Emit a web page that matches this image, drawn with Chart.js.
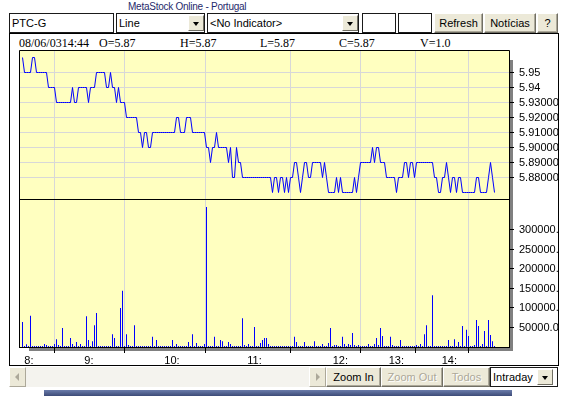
<!DOCTYPE html>
<html>
<head>
<meta charset="utf-8">
<script src="https://cdn.jsdelivr.net/npm/chart.js@4.4.0/dist/chart.umd.min.js"></script>
<style>
body { margin: 0; width: 578px; height: 396px; background: #fff; position: relative; overflow: hidden;
       font-family: "Liberation Sans", Arial, sans-serif; font-size: 11px; color: #000; }
.abs { position: absolute; box-sizing: border-box; }
#title { left: 128px; top: 2px; font-size: 10px; line-height: 10px; letter-spacing: -0.25px; color: #1f2a6b; white-space: nowrap; }
.field { background: #fff; border: 1px solid #1a1a1a; height: 20px; top: 13px; line-height: 18px; padding-left: 2px; white-space: nowrap; }
.btn { background: #ece9d8; border: 1px solid; border-color: #fff #716f64 #716f64 #fff; box-shadow: inset -1px -1px #aca899;
       height: 20px; line-height: 18px; text-align: center; white-space: nowrap; }
.off { color: #aca899; text-shadow: 1px 1px #fff; }
.drop { position: absolute; top: 1px; width: 16px; height: 16px; background: #ece9d8; border: 1px solid;
        border-color: #fff #716f64 #716f64 #fff; box-sizing: border-box; }
.drop::after { content: ""; position: absolute; left: 4px; top: 6px; border-left: 3.5px solid transparent;
               border-right: 3.5px solid transparent; border-top: 4px solid #000; }
#frame { left: 9px; top: 33px; width: 550px; height: 333px; border: 1px solid #000; background: #fff; }
.hd { position: absolute; top: 3px; font-family: "Liberation Serif", "Times New Roman", serif; font-size: 12px; line-height: 12px; white-space: nowrap; }
#chart { position: absolute; left: 0; top: 0; }
.arrow { position: absolute; top: 0; width: 17px; height: 20px; background: #ece9d8; border: 1px solid;
         border-color: #fff #aca899 #aca899 #fff; box-sizing: border-box; }
.arrow.l::after { content: ""; position: absolute; left: 5px; top: 5px; border-top: 4px solid transparent;
                  border-bottom: 4px solid transparent; border-right: 4px solid #aca899; }
.arrow.r::after { content: ""; position: absolute; left: 6px; top: 5px; border-top: 4px solid transparent;
                  border-bottom: 4px solid transparent; border-left: 4px solid #aca899; }
</style>
</head>
<body>

<div class="abs" id="title">MetaStock Online - Portugal</div>

<div class="abs field" style="left:9px;width:105px;">PTC-G</div>
<div class="abs field" style="left:116px;width:89px;">Line<div class="drop" style="left:71px;"></div></div>
<div class="abs field" style="left:207px;width:152px;">&lt;No Indicator&gt;<div class="drop" style="left:134px;"></div></div>
<div class="abs field" style="left:362px;width:34px;"></div>
<div class="abs field" style="left:398px;width:34px;"></div>
<div class="abs btn" style="left:434px;top:13px;width:49px;">Refresh</div>
<div class="abs btn" style="left:484px;top:13px;width:52px;">Notícias</div>
<div class="abs btn" style="left:537px;top:13px;width:21px;">?</div>

<div class="abs" id="frame">
  <span class="hd" style="left:9px;">08/06/0314:44</span>
  <span class="hd" style="left:89px;">O=5.87</span>
  <span class="hd" style="left:170px;">H=5.87</span>
  <span class="hd" style="left:250px;">L=5.87</span>
  <span class="hd" style="left:329px;">C=5.87</span>
  <span class="hd" style="left:410px;">V=1.0</span>
  <canvas id="chart" width="548" height="331"></canvas>
</div>

<div class="abs" style="left:9px;top:367px;width:317px;height:20px;background:#f4f3ee;">
  <div class="arrow l" style="left:0;"></div>
  <div class="arrow r" style="left:300px;"></div>
</div>
<div class="abs btn" style="left:326px;top:367px;width:55px;">Zoom In</div>
<div class="abs btn off" style="left:381px;top:367px;width:62px;">Zoom Out</div>
<div class="abs btn off" style="left:443px;top:367px;width:47px;">Todos</div>
<div class="abs field" style="left:490px;top:367px;width:68px;">Intraday<div class="drop" style="left:46px;"></div></div>

<div class="abs" style="left:44px;top:390px;width:468px;height:6px;background:linear-gradient(#6b7cab,#3d4b78);"></div>

<script>
// hour marks on the x axis (bar index where each hour starts)
const hourTicks = [0.9, 30.9, 70.9, 112.4, 155.1, 183.1, 209.6];
const hourLabels = ['8:', '9:', '10:', '11:', '12:', '13:', '14:'];

// right axis labels
const priceTicks = [5.88, 5.89, 5.90, 5.91, 5.92, 5.93, 5.94, 5.95];
const priceTickLabels = ['5.880000', '5.890000', '5.900000', '5.910000', '5.920000', '5.930000', '5.94', '5.95'];
const volumeTicks = [50000, 100000, 150000, 200000, 250000, 300000];
const volumeTickLabels = ['50000.0', '100000.0', '150000.0', '200000.0', '250000.0', '300000.0'];

// last price per trade bar
const prices = [
  5.96, 5.95, 5.95, 5.95, 5.95, 5.96, 5.96, 5.95, 5.95, 5.95,
  5.95, 5.95, 5.95, 5.94, 5.94, 5.94, 5.94, 5.93, 5.93, 5.93,
  5.93, 5.93, 5.93, 5.93, 5.93, 5.94, 5.93, 5.93, 5.94, 5.94,
  5.94, 5.94, 5.94, 5.93, 5.94, 5.94, 5.94, 5.95, 5.95, 5.95,
  5.95, 5.95, 5.94, 5.94, 5.95, 5.94, 5.94, 5.93, 5.94, 5.93,
  5.93, 5.93, 5.92, 5.92, 5.92, 5.92, 5.92, 5.92, 5.91, 5.91,
  5.90, 5.91, 5.91, 5.90, 5.90, 5.91, 5.91, 5.91, 5.91, 5.91,
  5.91, 5.91, 5.91, 5.91, 5.91, 5.91, 5.91, 5.92, 5.92, 5.91,
  5.91, 5.91, 5.92, 5.92, 5.92, 5.91, 5.91, 5.91, 5.91, 5.91,
  5.91, 5.91, 5.90, 5.90, 5.89, 5.90, 5.90, 5.91, 5.90, 5.90,
  5.90, 5.90, 5.90, 5.89, 5.90, 5.88, 5.88, 5.90, 5.89, 5.89,
  5.88, 5.88, 5.88, 5.88, 5.88, 5.88, 5.88, 5.88, 5.88, 5.88,
  5.88, 5.88, 5.88, 5.88, 5.88, 5.87, 5.88, 5.88, 5.87, 5.88,
  5.88, 5.87, 5.88, 5.87, 5.88, 5.88, 5.89, 5.89, 5.88, 5.87,
  5.88, 5.89, 5.89, 5.88, 5.88, 5.89, 5.89, 5.89, 5.89, 5.89,
  5.88, 5.89, 5.88, 5.87, 5.87, 5.87, 5.87, 5.88, 5.87, 5.88,
  5.87, 5.87, 5.87, 5.87, 5.87, 5.87, 5.88, 5.87, 5.88, 5.89,
  5.89, 5.89, 5.89, 5.89, 5.89, 5.90, 5.89, 5.90, 5.90, 5.89,
  5.89, 5.89, 5.88, 5.88, 5.88, 5.88, 5.88, 5.87, 5.88, 5.88,
  5.88, 5.89, 5.89, 5.88, 5.89, 5.89, 5.88, 5.89, 5.89, 5.89,
  5.89, 5.89, 5.89, 5.89, 5.89, 5.89, 5.88, 5.88, 5.87, 5.87,
  5.88, 5.88, 5.89, 5.88, 5.87, 5.88, 5.88, 5.87, 5.88, 5.88,
  5.87, 5.87, 5.87, 5.87, 5.87, 5.87, 5.87, 5.88, 5.88, 5.87,
  5.87, 5.87, 5.87, 5.88, 5.89, 5.88, 5.87
];

// volume per trade bar
const volumes = [
  64000, 2600, 7000, 2600, 80000, 2600, 2600, 2600, 2600, 2600,
  2600, 7700, 5200, 2600, 2600, 2600, 7700, 20000, 5200, 2600,
  49000, 2600, 2600, 2600, 23000, 7700, 2600, 13000, 2600, 7700,
  2600, 2600, 79000, 18000, 2600, 15000, 56000, 87000, 2600, 2600,
  2600, 2600, 2600, 2600, 2600, 33000, 23000, 2600, 2600, 100000,
  144000, 2600, 33000, 5200, 2600, 2600, 56000, 2600, 2600, 2600,
  2600, 2600, 2600, 2600, 2600, 26000, 2600, 18000, 2600, 2600,
  2600, 2600, 2600, 2600, 2600, 18000, 2600, 7700, 2600, 2600,
  2600, 2600, 2600, 13000, 2600, 33000, 2600, 10000, 2600, 2600,
  2600, 7700, 359000, 2600, 2600, 2600, 26000, 2600, 2600, 18000,
  15000, 2600, 2600, 13000, 7700, 2600, 2600, 2600, 2600, 2600,
  74000, 5200, 2600, 7700, 2600, 2600, 51000, 2600, 2600, 10000,
  18000, 23000, 23000, 7700, 2600, 2600, 2600, 2600, 2600, 2600,
  2600, 2600, 2600, 2600, 2600, 2600, 26000, 13000, 2600, 2600,
  2600, 13000, 2600, 2600, 2600, 2600, 15000, 2600, 2600, 2600,
  7700, 2600, 2600, 10000, 49000, 2600, 5200, 5200, 2600, 2600,
  26000, 7700, 2600, 7700, 5200, 36000, 5200, 2600, 5200, 2600,
  2600, 2600, 2600, 7700, 2600, 2600, 7700, 23000, 5200, 49000,
  28000, 2600, 2600, 2600, 26000, 5200, 2600, 2600, 2600, 18000,
  2600, 2600, 2600, 2600, 2600, 2600, 2600, 5200, 2600, 7700,
  2600, 33000, 56000, 2600, 2600, 133000, 2600, 2600, 2600, 2600,
  2600, 2600, 2600, 18000, 2600, 2600, 20000, 2600, 13000, 2600,
  54000, 2600, 44000, 28000, 2600, 2600, 5200, 69000, 54000, 2600,
  7700, 41000, 2600, 69000, 31000, 15000, 2600
];

// yellow panels, drop shadow and black frame (bottom border sits just under the bars)
const panelFrame = {
  id: 'panelFrame',
  beforeDraw(chart) {
    const { ctx, chartArea: a } = chart;
    ctx.save();
    ctx.fillStyle = '#808080';
    ctx.fillRect(a.right, a.top + 10, 3, a.bottom - a.top - 6);
    ctx.fillRect(a.left + 10, a.bottom + 1, a.right - a.left - 7, 3);
    ctx.fillStyle = '#ffffc0';
    ctx.fillRect(a.left, a.top, a.right - a.left, a.bottom - a.top);
    ctx.restore();
  },
  afterDraw(chart) {
    const { ctx, chartArea: a } = chart;
    const split = Math.round(chart.scales.yP.bottom) - 0.5;
    ctx.save();
    ctx.strokeStyle = '#000';
    ctx.lineWidth = 1;
    ctx.beginPath();
    ctx.moveTo(a.left + 0.5, a.bottom + 1);
    ctx.lineTo(a.left + 0.5, a.top + 0.5);
    ctx.lineTo(a.right - 0.5, a.top + 0.5);
    ctx.lineTo(a.right - 0.5, a.bottom + 1);
    ctx.moveTo(a.left, a.bottom + 0.5);
    ctx.lineTo(a.right, a.bottom + 0.5);
    ctx.moveTo(a.left, split);
    ctx.lineTo(a.right, split);
    ctx.stroke();
    ctx.restore();
  }
};

const tickFont = { family: 'Liberation Sans', size: 11 };

new Chart(document.getElementById('chart'), {
  type: 'line',
  data: {
    datasets: [
      {
        type: 'line',
        data: prices.map((p, i) => ({ x: i, y: p })),
        xAxisID: 'x',
        yAxisID: 'yP',
        borderColor: '#0000ff',
        borderWidth: 1,
        pointRadius: 0,
        tension: 0,
        fill: false
      },
      {
        type: 'bar',
        data: volumes.map((v, i) => ({ x: i, y: v })),
        xAxisID: 'x',
        yAxisID: 'yV',
        backgroundColor: '#0000ff',
        barThickness: 1,
        borderWidth: 0,
        inflateAmount: 0
      }
    ]
  },
  options: {
    responsive: false,
    animation: false,
    devicePixelRatio: 1,
    layout: { padding: { left: 9, top: 16, right: 0, bottom: 0 } },
    plugins: { legend: { display: false }, tooltip: { enabled: false } },
    scales: {
      yP: {
        type: 'linear',
        position: 'right',
        stack: 'panels',
        stackWeight: 150,
        min: 5.865,
        max: 5.965,
        afterFit: s => { s.width = 48; },
        afterBuildTicks: s => { s.ticks = priceTicks.map(v => ({ value: v })); },
        border: { display: false },
        grid: { color: '#d8d8d8', tickColor: '#000', tickLength: 4 },
        ticks: { autoSkip: false, padding: 5, color: '#000', font: tickFont, callback: (v, i) => priceTickLabels[i] }
      },
      yV: {
        type: 'linear',
        position: 'right',
        stack: 'panels',
        stackWeight: 147,
        min: 0,
        max: 376900,
        afterFit: s => { s.width = 48; },
        afterBuildTicks: s => { s.ticks = volumeTicks.map(v => ({ value: v })); },
        border: { display: false },
        grid: { drawOnChartArea: false, tickColor: '#000', tickLength: 4 },
        ticks: { autoSkip: false, padding: 5, color: '#000', font: tickFont, callback: (v, i) => volumeTickLabels[i] }
      },
      x: {
        type: 'linear',
        offset: false,
        min: -1.75,
        max: 243.75,
        afterFit: s => { s.height = 18; },
        afterBuildTicks: s => { s.ticks = hourTicks.map(v => ({ value: v })); },
        border: { display: false },
        grid: { color: '#d8d8d8', tickColor: '#000', tickLength: 6 },
        ticks: { autoSkip: false, maxRotation: 0, align: 'start', padding: 1, color: '#000', font: tickFont,
                 callback: (v, i) => hourLabels[i] }
      }
    }
  },
  plugins: [panelFrame]
});
</script>
</body>
</html>
